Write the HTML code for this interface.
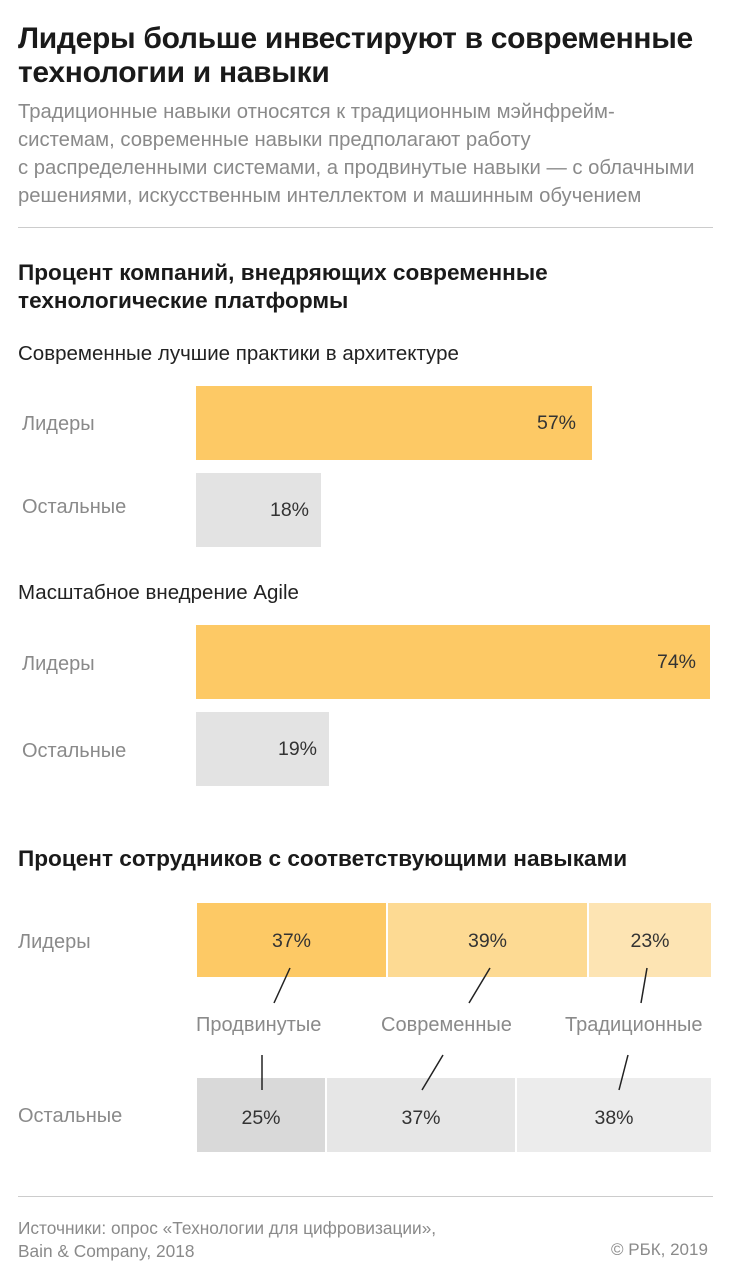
<!DOCTYPE html>
<html><head><meta charset="utf-8"><style>
*{margin:0;padding:0;box-sizing:border-box}
body{width:732px;height:1280px;background:#fff;font-family:"Liberation Sans","DejaVu Sans",sans-serif;position:relative;overflow:hidden;color:#222}
.a{position:absolute;white-space:nowrap}
h1{position:absolute;left:18px;top:22px;font-size:30px;line-height:34px;font-weight:bold;color:#1a1a1a;letter-spacing:-0.3px;white-space:nowrap}
.sub{position:absolute;left:18px;top:98px;font-size:20.3px;line-height:28px;color:#8a8a8a;white-space:nowrap}
.hr{position:absolute;left:18px;width:695px;height:1px;background:#ccc}
.h2{position:absolute;left:18px;font-size:22.6px;font-weight:bold;line-height:28px;color:#1a1a1a;white-space:nowrap}
.lbl{position:absolute;left:22px;font-size:20px;color:#8a8a8a;white-space:nowrap}
.bar{position:absolute;font-size:19.5px;color:#333;display:flex;align-items:center;justify-content:flex-end;padding-right:16px}
.seg{position:absolute;font-size:19.5px;color:#333;display:flex;align-items:center;justify-content:center}
.cat{position:absolute;font-size:20px;color:#8a8a8a;white-space:nowrap}
</style></head><body>
<h1>Лидеры больше инвестируют в современные<br>технологии и навыки</h1>
<div class="sub">Традиционные навыки относятся к традиционным мэйнфрейм-<br>системам, современные навыки предполагают работу<br>с распределенными системами, а продвинутые навыки — с облачными<br>решениями, искусственным интеллектом и машинным обучением</div>
<div class="hr" style="top:227px"></div>
<div class="h2" style="top:259px">Процент компаний, внедряющих современные<br>технологические платформы</div>
<div class="a" style="left:18px;top:342px;font-size:20.5px;color:#222">Современные лучшие практики в архитектуре</div>
<div class="lbl" style="top:413px">Лидеры</div>
<div class="bar" style="left:196px;top:386px;width:396px;height:74px;background:#fdc965">57%</div>
<div class="lbl" style="top:496px">Остальные</div>
<div class="bar" style="left:196px;top:473px;width:125px;height:74px;background:#e3e3e3;padding-right:12px">18%</div>
<div class="a" style="left:18px;top:581px;font-size:20.5px;color:#222">Масштабное внедрение Agile</div>
<div class="lbl" style="top:653px">Лидеры</div>
<div class="bar" style="left:196px;top:625px;width:514px;height:74px;background:#fdc965;padding-right:14px">74%</div>
<div class="lbl" style="top:740px">Остальные</div>
<div class="bar" style="left:196px;top:712px;width:133px;height:74px;background:#e3e3e3;padding-right:12px">19%</div>
<div class="h2" style="top:845px">Процент сотрудников с соответствующими навыками</div>
<div class="lbl" style="left:18px;top:931px">Лидеры</div>
<div class="seg" style="left:197px;top:903px;width:189px;height:74px;background:#fdc965;align-items:flex-start;padding-top:27px">37%</div>
<div class="seg" style="left:388px;top:903px;width:199px;height:74px;background:#fdda93;align-items:flex-start;padding-top:27px">39%</div>
<div class="seg" style="left:589px;top:903px;width:122px;height:74px;background:#fde4b3;align-items:flex-start;padding-top:27px">23%</div>
<div class="cat" style="left:196px;top:1014px">Продвинутые</div>
<div class="cat" style="left:381px;top:1014px">Современные</div>
<div class="cat" style="left:565px;top:1014px">Традиционные</div>
<div class="lbl" style="left:18px;top:1105px">Остальные</div>
<div class="seg" style="left:197px;top:1078px;width:128px;height:74px;background:#d9d9d9;padding-top:6px">25%</div>
<div class="seg" style="left:327px;top:1078px;width:188px;height:74px;background:#e6e6e6;padding-top:6px">37%</div>
<div class="seg" style="left:517px;top:1078px;width:194px;height:74px;background:#ececec;padding-top:6px">38%</div>
<svg class="a" style="left:0;top:0" width="732" height="1280"><g stroke="#222" stroke-width="1.5">
<line x1="290" y1="968" x2="274" y2="1003"/>
<line x1="490" y1="968" x2="469" y2="1003"/>
<line x1="647" y1="968" x2="641" y2="1003"/>
<line x1="262" y1="1055" x2="262" y2="1090"/>
<line x1="443" y1="1055" x2="422" y2="1090"/>
<line x1="628" y1="1055" x2="619" y2="1090"/>
</g></svg>
<div class="hr" style="top:1196px"></div>
<div class="a" style="left:18px;top:1217px;font-size:17.3px;line-height:23px;color:#8a8a8a">Источники: опрос «Технологии для цифровизации»,<br>Bain &amp; Company, 2018</div>
<div class="a" style="left:611px;top:1240px;font-size:17px;color:#8a8a8a">© РБК, 2019</div>
</body></html>
